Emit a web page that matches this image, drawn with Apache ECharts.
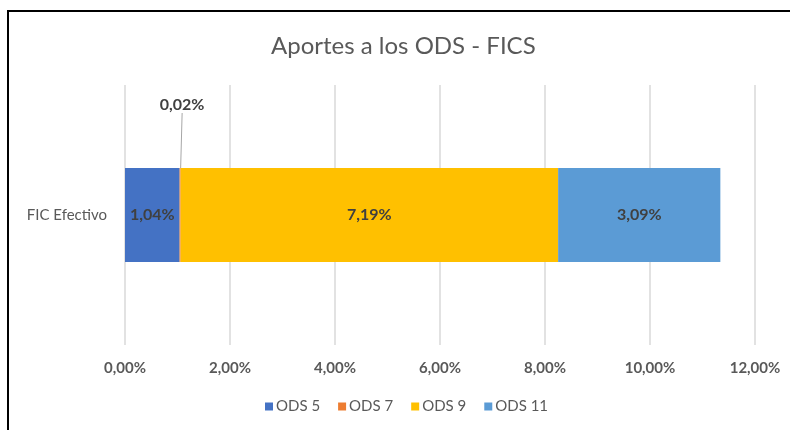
<!DOCTYPE html>
<html>
<head>
<meta charset="utf-8">
<script src="https://cdn.jsdelivr.net/npm/echarts@6/dist/echarts.min.js"></script>
<style>
  html, body { margin: 0; padding: 0; background: #fff; }
  #frame { position: absolute; left: 7px; top: 10px; width: 820px; height: 460px;
           border-left: 2px solid #000; border-top: 2px solid #000; }
  #main { position: absolute; left: 0; top: 0; width: 790px; height: 430px; }
</style>
</head>
<body>
<div id="frame"></div>
<div id="main"></div>
<script>
const categories = ['FIC Efectivo']
const seriesNames = ['ODS 5', 'ODS 7', 'ODS 9', 'ODS 11']
const ods5 = [1.04]
const ods7 = [0.02]
const ods9 = [7.19]
const ods11 = [3.09]
const colors = ['#4472C4', '#ED7D31', '#FFC000', '#5B9BD5']

const fmt = (v) => v.toFixed(2).replace('.', ',') + '%'
const font = 'Lato, "Open Sans", sans-serif'

var chartDom = document.getElementById('main')
var myChart = echarts.init(chartDom)

const inLabel = {
  show: true,
  position: 'inside',
  color: '#404040',
  fontSize: 16,
  fontWeight: 'bold',
  fontFamily: font,
  formatter: (p) => fmt(p.value),
}

var option = {
  animation: false,
  color: colors,
  title: {
    text: 'Aportes a los ODS - FICS',
    left: 266,
    top: 29,
    textStyle: { color: '#595959', fontSize: 24, fontWeight: 'normal', fontFamily: font },
  },
  legend: {
    bottom: 11,
    left: 260,
    itemWidth: 8,
    itemHeight: 8,
    itemGap: 18,
    icon: 'rect',
    textStyle: { color: '#595959', fontSize: 15, fontFamily: font, padding: [0, 0, 0, -2] },
    data: seriesNames,
  },
  grid: { left: 125, right: 35, top: 85, bottom: 85 },
  xAxis: {
    type: 'value',
    min: 0,
    max: 12,
    interval: 2,
    axisLine: { show: false },
    axisTick: { show: false },
    splitLine: { lineStyle: { color: '#D9D9D9', width: 1.5 } },
    axisLabel: {
      color: '#595959',
      fontSize: 15,
      fontWeight: 'bold',
      fontFamily: font,
      margin: 16,
      formatter: (v) => fmt(v),
    },
  },
  yAxis: {
    type: 'category',
    data: categories,
    axisLine: { show: false },
    axisTick: { show: false },
    axisLabel: { color: '#595959', fontSize: 15, fontFamily: font, margin: 18 },
  },
  series: [
    {
      name: 'ODS 5', type: 'bar', stack: 'total', barWidth: 94, data: ods5,
      label: inLabel,
    },
    {
      name: 'ODS 7', type: 'bar', stack: 'total', barWidth: 94, data: ods7,
      label: {
        show: true,
        position: 'top',
        color: '#404040',
        fontSize: 16,
        fontWeight: 'bold',
        fontFamily: font,
        formatter: (p) => fmt(p.value),
      },
      labelLayout: { dx: 2, dy: -50 },
      labelLine: { show: true, lineStyle: { color: '#A6A6A6', width: 1 } },
    },
    {
      name: 'ODS 9', type: 'bar', stack: 'total', barWidth: 94, data: ods9,
      label: inLabel,
    },
    {
      name: 'ODS 11', type: 'bar', stack: 'total', barWidth: 94, data: ods11,
      label: inLabel,
    },
  ],
}
option && myChart.setOption(option)
window.onresize = () => {
  myChart.resize()
}
</script>
</body>
</html>
